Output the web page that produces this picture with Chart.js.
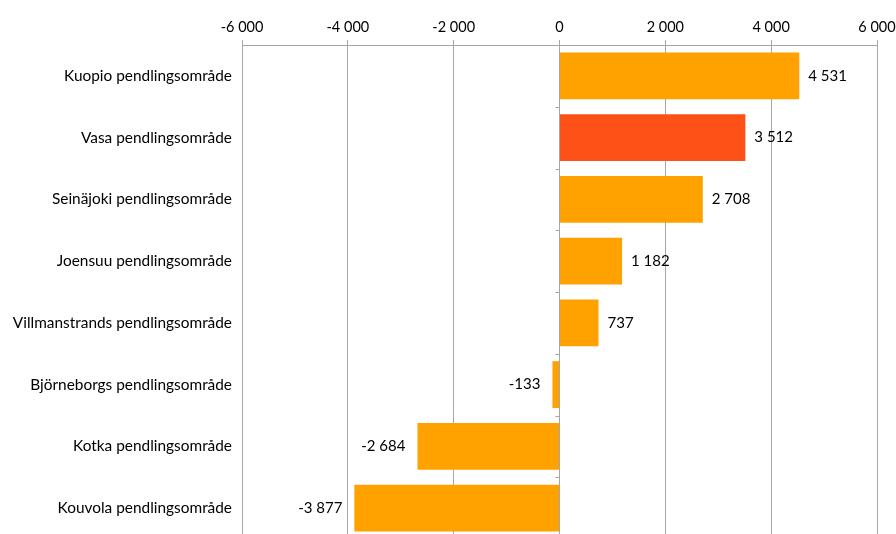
<!DOCTYPE html>
<html>
<head>
<meta charset="utf-8">
<script src="https://cdn.jsdelivr.net/npm/chart.js@4/dist/chart.umd.min.js"></script>
<style>
  html, body { margin: 0; padding: 0; background: #fff; overflow: hidden; }
  #wrap { width: 896px; height: 539px; position: relative; }
</style>
</head>
<body>
<div id="wrap"><canvas id="chart"></canvas></div>
<script>
var categories = [
    "Kuopio pendlingsområde",
    "Vasa pendlingsområde",
    "Seinäjoki pendlingsområde",
    "Joensuu pendlingsområde",
    "Villmanstrands pendlingsområde",
    "Björneborgs pendlingsområde",
    "Kotka pendlingsområde",
    "Kouvola pendlingsområde"
];
var values = [4531, 3512, 2708, 1182, 737, -133, -2684, -3877];
var highlighted = ["Vasa pendlingsområde"];
var xTicks = [-6000, -4000, -2000, 0, 2000, 4000, 6000];

var FONT = "Lato";
var GRID = "#a6a6a6";

// Formats a number with space as thousands separator
function formatNumber(n) {
    var s = Math.abs(n).toString().replace(/\B(?=(\d{3})+(?!\d))/g, " ");
    return (n < 0 ? "-" : "") + s;
}

var colors = categories.map(c => highlighted.indexOf(c) >= 0 ? "#fd5117" : "#ffa200");

// value labels next to bar ends + small tick marks on the zero axis
var extras = {
    id: "extras",
    afterDatasetsDraw: function(chart) {
        var ctx = chart.ctx;
        var meta = chart.getDatasetMeta(0);
        var x = chart.scales.x;
        var y = chart.scales.y;
        var zero = x.getPixelForValue(0);

        ctx.save();
        ctx.strokeStyle = GRID;
        ctx.lineWidth = 1;
        for (var i = 0; i <= categories.length; i++) {
            var py = Math.round(y.getPixelForValue(i - 0.5)) + 0.5;
            ctx.beginPath();
            ctx.moveTo(zero - 4, py);
            ctx.lineTo(zero, py);
            ctx.stroke();
        }

        ctx.font = "15px " + FONT;
        ctx.fillStyle = "#000";
        ctx.textBaseline = "middle";
        meta.data.forEach((bar, i) => {
            var v = values[i];
            if (v >= 0) {
                ctx.textAlign = "left";
                ctx.fillText(formatNumber(v), bar.x + 9, bar.y);
            } else {
                ctx.textAlign = "right";
                ctx.fillText(formatNumber(v), bar.x - 12, bar.y);
            }
        });
        ctx.restore();
    }
};

var ctx = document.getElementById("chart");

new Chart(ctx, {
    type: "bar",
    data: {
        labels: categories,
        datasets: [{
            data: values,
            backgroundColor: colors,
            borderWidth: 0,
            barPercentage: 0.76,
            categoryPercentage: 1
        }]
    },
    options: {
        indexAxis: "y",
        responsive: true,
        maintainAspectRatio: false,
        animation: false,
        layout: { padding: { top: 10, right: 19, bottom: 0, left: 0 } },
        plugins: {
            legend: { display: false },
            tooltip: { enabled: false }
        },
        scales: {
            x: {
                position: "top",
                min: xTicks[0],
                max: xTicks[xTicks.length - 1],
                afterBuildTicks: function(axis) {
                    axis.ticks = xTicks.map(v => ({ value: v }));
                },
                afterFit: function(axis) {
                    axis.height = 35;
                    axis.paddingLeft = 0;
                    axis.paddingRight = 0;
                },
                grid: {
                    color: GRID,
                    tickLength: 5,
                    tickColor: GRID
                },
                border: { color: GRID },
                ticks: {
                    padding: 4,
                    color: "#000",
                    font: { family: FONT, size: 14.5 },
                    maxRotation: 0,
                    callback: function(v) { return formatNumber(v); }
                }
            },
            y: {
                grid: { display: false },
                border: { display: false },
                afterFit: function(axis) {
                    axis.width = 242;
                    axis.paddingTop = 0;
                    axis.paddingBottom = 0;
                },
                ticks: {
                    padding: 2,
                    color: "#000",
                    font: { family: FONT, size: 15.4 }
                }
            }
        }
    },
    plugins: [extras]
});
</script>
</body>
</html>
